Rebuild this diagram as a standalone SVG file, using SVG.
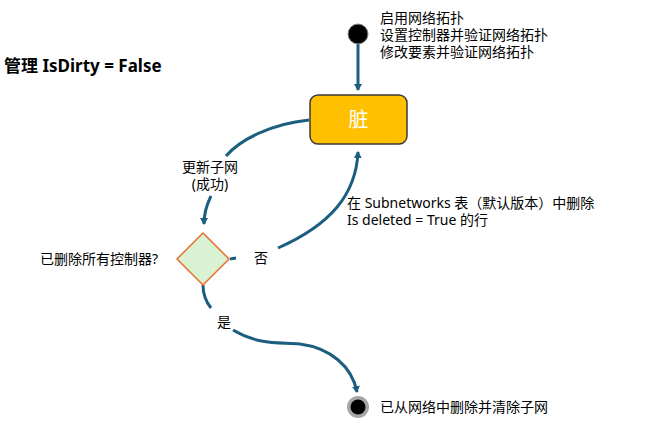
<svg xmlns="http://www.w3.org/2000/svg" width="651" height="436" viewBox="0 0 651 436">
<style>
text{font-family:"Noto Sans","Noto Sans CJK SC",sans-serif;font-size:14px;fill:#000}
.c{fill:none;stroke:#1B5E80;stroke-width:3}
</style>
<defs>
<marker id="a" markerWidth="8" markerHeight="8" refX="6" refY="4" orient="auto" markerUnits="userSpaceOnUse"><path d="M0,0L7,4L0,8z" fill="#1B5E80"/></marker>
</defs>
<rect width="651" height="436" fill="#fff"/>
<text x="4" y="72" style="font-size:17px;font-weight:bold">管理 IsDirty = False</text>
<g id="connectors">
<path class="c" d="M358,44 L358,90" marker-end="url(#a)"/>
<path class="c" d="M309,120 C270,124 240,140 226,156"/>
<path class="c" d="M211,196 C206,206 204,214 204,224" marker-end="url(#a)"/>
<path class="c" d="M230,259 L236,258"/>
<path class="c" d="M278,248 C330,225 356,195 358,152" marker-end="url(#a)"/>
<path class="c" d="M203,285 C203,295 207,303 211,308"/>
<path class="c" d="M233,330 C260,346 280,342 300,344 C330,348 352,366 357,392" marker-end="url(#a)"/>
</g>
<g id="start"><circle cx="358" cy="34" r="10" fill="#000" stroke="#888" stroke-width="1"/>
<text x="380" y="23">启用网络拓扑</text><text x="380" y="40">设置控制器并验证网络拓扑</text><text x="380" y="57">修改要素并验证网络拓扑</text></g>
<g id="dirty"><rect x="310" y="95" width="97" height="49" rx="8" fill="#FFC000" stroke="#3a3a3a" stroke-width="1.5"/>
<text x="358.5" y="127" text-anchor="middle" style="font-size:20px;fill:#fff">脏</text></g>
<g id="decision"><path d="M203,233 L229,259 L203,285 L177,259z" fill="#D9F2D3" stroke="#E8702A" stroke-width="1.5"/>
<text x="158" y="264" text-anchor="end">已删除所有控制器?</text></g>
<g id="end"><circle cx="358" cy="407" r="11" fill="#A6A6A6"/><circle cx="358" cy="407" r="7.5" fill="#000"/>
<text x="380" y="412">已从网络中删除并清除子网</text></g>
<g id="labels">
<text x="210" y="172" text-anchor="middle">更新子网</text><text x="210" y="189" text-anchor="middle">(成功)</text>
<text x="261" y="263" text-anchor="middle">否</text>
<text x="224" y="327" text-anchor="middle">是</text>
<text x="347" y="208">在 Subnetworks 表（默认版本）中删除</text>
<text x="347" y="225">Is deleted = True 的行</text>
</g>
</svg>
